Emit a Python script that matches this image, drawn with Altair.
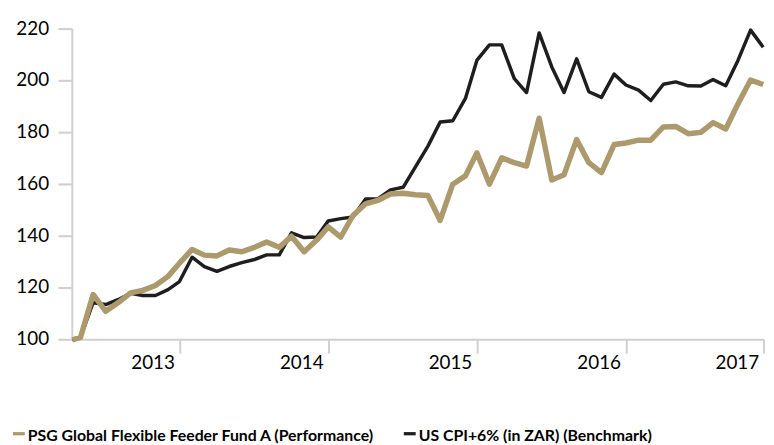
import altair as alt
import pandas as pd

PSG = "PSG Global Flexible Feeder Fund A (Performance)"
CPI = "US CPI+6% (in ZAR)  (Benchmark)"
GOLD = "#AC9A6C"
BLACK = "#1E1E1E"
AXIS_GREY = "#D0D0D0"

# inception date followed by monthly observations
dates = ["2012-06-18"] + [
    f"{2012 + (6 + i) // 12}-{(6 + i) % 12 + 1:02d}-08" for i in range(56)
]

psg = [100, 100.9, 117.5, 111, 114.3, 118.1, 119.1, 121, 124.5, 129.6,
       134.9, 132.7, 132.4, 134.7, 134, 135.7, 137.8, 135.7, 140, 134,
       138.5, 143.6, 139.7, 148, 152.5, 153.8, 156.3, 156.6, 156, 155.7,
       146.1, 160.1, 163.3, 172.2, 160.1, 170.3, 168.4, 167.1, 185.6, 161.7,
       163.7, 177.3, 168.4, 164.6, 175.4, 176, 177.1, 177.1, 182.2, 182.4,
       179.6, 180.1, 183.9, 181.4, 191.1, 200.3, 198.6]

cpi = [100, 100.9, 114.3, 113.6, 115.5, 118, 117.1, 117.1, 119.4, 122.5,
       131.9, 128.3, 126.4, 128.3, 129.8, 131, 132.8, 132.8, 141.3, 139.5,
       139.7, 145.9, 146.8, 147.4, 154.4, 154.4, 157.9, 158.9, 166.7, 174.8,
       184.1, 184.6, 193.2, 207.9, 213.9, 213.9, 200.9, 195.5, 218.5, 205.4,
       195.5, 208.5, 195.8, 193.6, 202.6, 198.4, 196.4, 192.4, 198.7, 199.6,
       198.1, 198, 200.5, 198.1, 207.9, 219.6, 213]

y_ticks = [100, 120, 140, 160, 180, 200, 220]
year_labels = [2013, 2014, 2015, 2016, 2017]
tick_dates = ["2013-03-10", "2014-03-10", "2015-03-10", "2016-03-10", "2017-02-10"]
axis_start = "2012-06-18"

df = pd.DataFrame({
    "date": dates + dates,
    "value": psg + cpi,
    "series": [PSG] * len(psg) + [CPI] * len(cpi),
})
xticks_df = pd.DataFrame({"date": tick_dates})
# thin bands (about 2px tall) used to draw the y-axis tick marks as filled rects
yticks_df = pd.DataFrame({"lo": [t - 0.4 for t in y_ticks],
                          "hi": [t + 0.4 for t in y_ticks]})
xline_df = pd.DataFrame({"date": [axis_start], "date2": [tick_dates[-1]]})
one_row = pd.DataFrame({"k": [0]})

x_scale = alt.Scale(domain=[alt.DateTime(year=2012, month=6, date=18),
                            alt.DateTime(year=2017, month=2, date=10)])
y_scale = alt.Scale(domain=[100, 220], nice=False, zero=False)

x_axis = alt.Axis(
    values=[alt.DateTime(year=y, month=1, date=1) for y in year_labels],
    format="%Y", ticks=False, grid=False, title=None, domain=False,
    labelFont="Lato", labelFontSize=19, labelColor="black",
    labelPadding=14, labelFlush=20, labelFlushOffset=11,
)
y_axis = alt.Axis(
    values=y_ticks, grid=False, title=None, domain=False, ticks=False,
    labelFont="Lato", labelFontSize=19, labelColor="black",
    labelPadding=24, labelOffset=-1,
)
x_enc = alt.X("date:T", scale=x_scale, axis=x_axis)
y_enc = alt.Y("value:Q", scale=y_scale, axis=y_axis)
color_enc = alt.Color(
    "series:N",
    scale=alt.Scale(domain=[PSG, CPI], range=[GOLD, BLACK]),
    legend=alt.Legend(
        title=None, orient="none", legendX=-62, legendY=403,
        direction="horizontal",
        symbolType="M-1,-0.35L1,-0.35", symbolSize=144, symbolStrokeWidth=3.3,
        labelFont="Lato", labelFontSize=16, labelFontWeight="bold",
        labelColor="black", labelOffset=1, columnPadding=22, labelLimit=600,
    ),
)

# axis lines and tick marks, drawn as filled shapes beneath the series
x_tick_rules = alt.Chart(xticks_df).mark_rule(color=AXIS_GREY, strokeWidth=2).encode(
    x=x_enc, y=alt.value(314), y2=alt.value(328))
x_domain = alt.Chart(xline_df).mark_rect(color=AXIS_GREY).encode(
    x=x_enc, x2="date2:T", y=alt.value(313), y2=alt.value(315))
y_domain = alt.Chart(one_row).mark_rect(color=AXIS_GREY).encode(
    x=alt.value(-1), x2=alt.value(1), y=alt.value(0), y2=alt.value(315))
y_tick_rects = alt.Chart(yticks_df).mark_rect(color=AXIS_GREY).encode(
    y=alt.Y("lo:Q", scale=y_scale, axis=y_axis), y2="hi:Q",
    x=alt.value(-14), x2=alt.value(0))

base = alt.Chart(df).encode(x=x_enc, y=y_enc, color=color_enc)
cpi_line = base.transform_filter(alt.datum.series == CPI).mark_line(
    strokeWidth=3.5, strokeJoin="round")
psg_line = base.transform_filter(alt.datum.series == PSG).mark_line(
    strokeWidth=5.5, strokeJoin="round")

chart = alt.layer(
    x_domain, y_domain, y_tick_rects, x_tick_rules, cpi_line, psg_line
).properties(
    width=699, height=314,
    padding={"left": 65, "top": 19, "right": 2, "bottom": 104},
    autosize=alt.AutoSizeParams(type="none"),
).configure_view(stroke=None)

chart.save("out.html", embed_options={"renderer": "svg", "actions": False})
